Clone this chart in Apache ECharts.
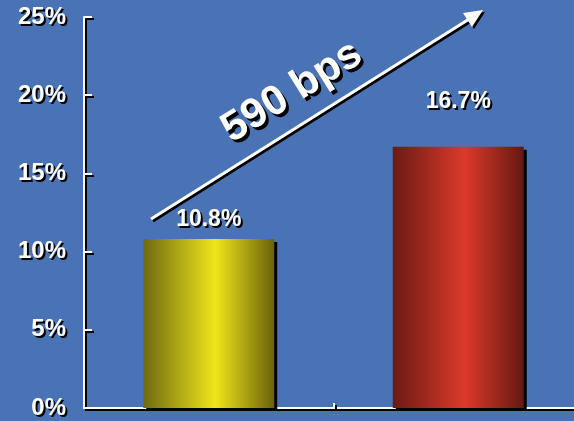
<!DOCTYPE html>
<html><head><meta charset="utf-8">
<script src="https://cdn.jsdelivr.net/npm/echarts@6/dist/echarts.min.js"></script>
<style>html,body{margin:0;padding:0;background:#4a73b5}#c{width:574px;height:421px}</style>
</head><body><div id="c"></div>
<script>
const categories = ['Before', 'After'];
const values = [10.8, 16.7];
const labels = ['10.8%', '16.7%'];
const yTicks = [0, 5, 10, 15, 20, 25];
const annotation = '590 bps';

const chart = echarts.init(document.getElementById('c'), null, {renderer: 'canvas'});
function grad(edgeL, mid, edgeR) {
  return new echarts.graphic.LinearGradient(0, 0, 1, 0, [
    {offset: 0, color: edgeL},
    {offset: 0.55, color: mid},
    {offset: 1, color: edgeR}
  ]);
}
const colors = [grad('#6e6a10', '#f0e61a', '#6a620a'), grad('#6a1a14', '#dc3a2a', '#641812')];
const labelDist = [8, 34];
const txtShadow = {textShadowColor: '#000', textShadowOffsetX: 2, textShadowOffsetY: 2, textShadowBlur: 0.1};
const axisLineStyle = {color: '#fff', width: 2, shadowColor: '#000', shadowOffsetX: 2, shadowOffsetY: 2, shadowBlur: 0.1};
const FONT = '"Liberation Sans", Arial, sans-serif';

chart.setOption({
  backgroundColor: '#4a73b5',
  animation: false,
  grid: {left: 84, width: 499, top: 17, bottom: 13, outerBoundsMode: 'none', containLabel: false},
  xAxis: {
    type: 'category', data: categories,
    axisLine: {lineStyle: axisLineStyle},
    axisTick: {show: true, inside: true, length: 5, lineStyle: axisLineStyle},
    axisLabel: {show: false}
  },
  yAxis: {
    type: 'value', min: yTicks[0], max: yTicks[yTicks.length - 1], interval: 5,
    axisLine: {show: true, lineStyle: axisLineStyle},
    axisTick: {show: true, inside: true, length: 8, lineStyle: axisLineStyle},
    splitLine: {show: false},
    axisLabel: Object.assign({formatter: '{value}%', color: '#fff', fontFamily: FONT,
      fontWeight: 'bold', fontSize: 24, margin: 18}, txtShadow)
  },
  series: [{
    type: 'bar', barWidth: 131,
    data: values.map((v, i) => ({
      value: v,
      itemStyle: {color: colors[i], shadowColor: '#000', shadowOffsetX: 3, shadowOffsetY: 3, shadowBlur: 0.1},
      label: Object.assign({show: true, position: 'top', distance: labelDist[i], formatter: labels[i], color: '#fff',
        fontFamily: FONT, fontWeight: 'bold', fontSize: 23}, txtShadow)
    }))
  }],
  graphic: [
    {type: 'line', shape: {x1: 153, y1: 221, x2: 476, y2: 18}, silent: true,
     style: {stroke: '#000', lineWidth: 3}},
    {type: 'polygon', shape: {points: [[485, 12], [465, 15], [474, 29]]}, silent: true,
     style: {fill: '#000'}},
    {type: 'line', shape: {x1: 151, y1: 219, x2: 474, y2: 16},
     style: {stroke: '#fff', lineWidth: 3}},
    {type: 'polygon', shape: {points: [[483, 10], [463, 13], [472, 27]]},
     style: {fill: '#fff'}},
    {type: 'text', x: 292, y: 92, rotation: 32 * Math.PI / 180,
     style: {text: annotation, align: 'center', verticalAlign: 'middle', fill: '#fff',
       font: 'bold 42px "Liberation Sans", Arial, sans-serif',
       textShadowColor: '#000', textShadowOffsetX: 3, textShadowOffsetY: 3, textShadowBlur: 0.1,
       shadowColor: '#000', shadowOffsetX: 3, shadowOffsetY: 3, shadowBlur: 0.1}}
  ]
});
</script></body></html>
